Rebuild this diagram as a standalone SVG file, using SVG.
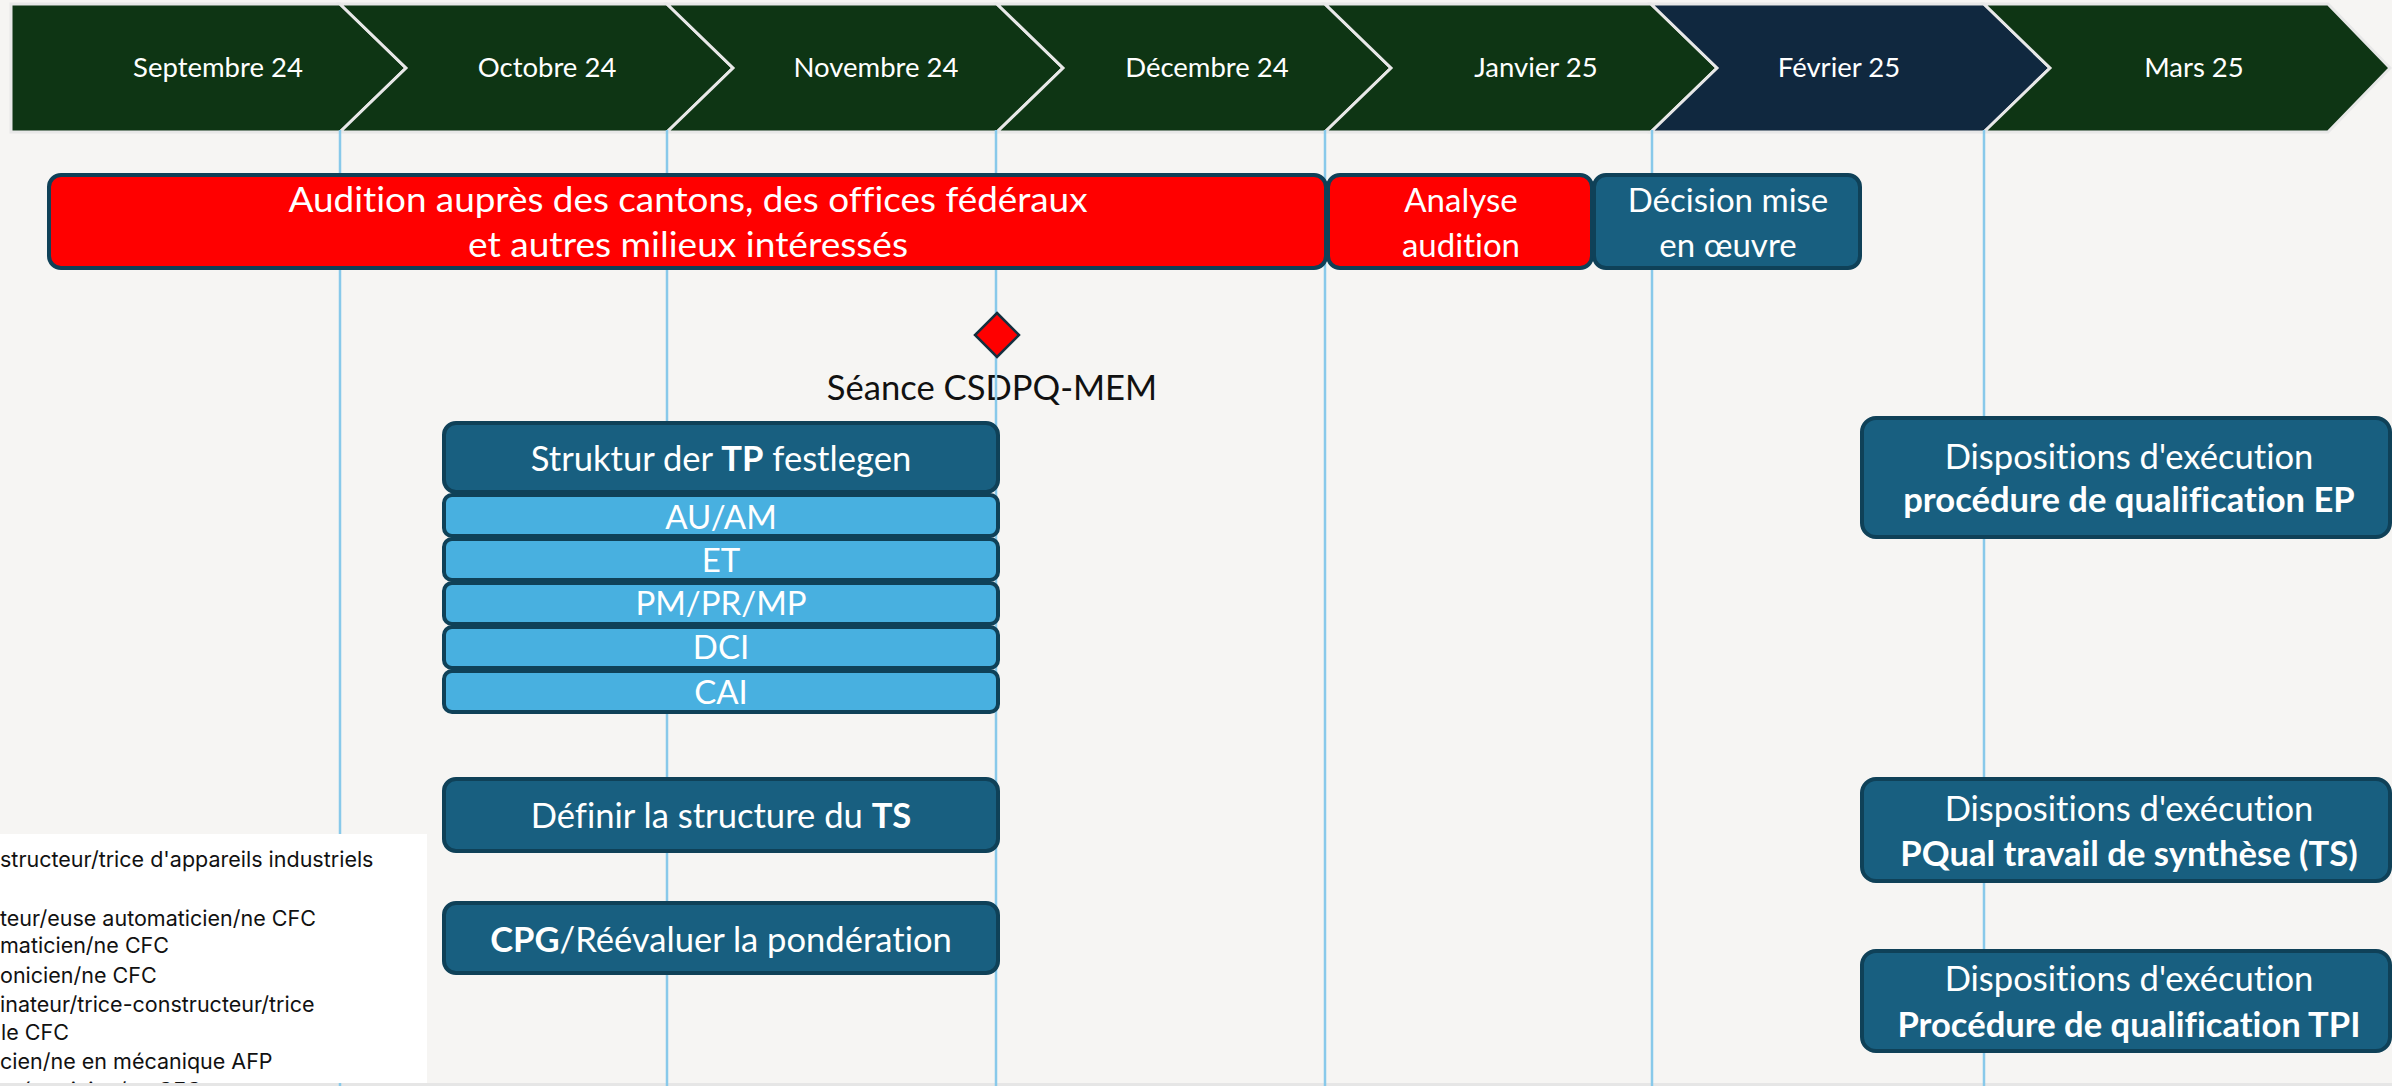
<svg xmlns="http://www.w3.org/2000/svg" width="2392" height="1086" viewBox="0 0 2392 1086">
<style>
.bg{fill:#f6f5f3}
.chev{fill:#0e3514;stroke:#e8e8e8;stroke-width:3;stroke-linejoin:miter}
.chev.feb{fill:#10283f}
.mon{font-family:Lato,"Noto Sans",sans-serif;font-size:27.5px;fill:#ffffff;text-anchor:middle}
.grid{stroke:#88c9ea;stroke-width:2.5;fill:none}
.red{fill:#ff0000;stroke:#0f4158;stroke-width:4}
.teal{fill:#185f80;stroke:#0f4158;stroke-width:4}
.lb{fill:#48b0e0;stroke:#0f4158;stroke-width:4}
.t{font-family:Lato,"Noto Sans",sans-serif;font-size:34.6px;fill:#ffffff;text-anchor:middle;font-variant-ligatures:none}
.s{font-size:33px}
.b{font-weight:bold}
.dk{fill:#111111}
.leg{font-family:Inter,"Noto Sans",sans-serif;font-size:21.5px;fill:#111111}
</style>
<defs>
<clipPath id="legclip"><rect x="0" y="834" width="427" height="249"/></clipPath>
</defs>
<rect class="bg" x="0" y="0" width="2392" height="1086"/>
<rect x="0" y="1083" width="2392" height="3" fill="#e6e6e6"/>

<g id="timeline">
<g id="m-sep"><polygon class="chev" points="11,4 340,4 406,68 340,132 11,132"/><text class="mon" x="218" y="77">Septembre 24</text></g>
<g id="m-oct"><polygon class="chev" points="340,4 667,4 733,68 667,132 340,132 406,68"/><text class="mon" x="547" y="77">Octobre 24</text></g>
<g id="m-nov"><polygon class="chev" points="667,4 997,4 1063,68 997,132 667,132 733,68"/><text class="mon" x="876" y="77">Novembre 24</text></g>
<g id="m-dec"><polygon class="chev" points="997,4 1325,4 1391,68 1325,132 997,132 1063,68"/><text class="mon" x="1207" y="77">Décembre 24</text></g>
<g id="m-jan"><polygon class="chev" points="1325,4 1651,4 1717,68 1651,132 1325,132 1391,68"/><text class="mon" x="1536" y="77">Janvier 25</text></g>
<g id="m-feb"><polygon class="chev feb" points="1651,4 1984,4 2050,68 1984,132 1651,132 1717,68"/><text class="mon" x="1839" y="77">Février 25</text></g>
<g id="m-mar"><polygon class="chev" points="1984,4 2328,4 2390,68 2328,132 1984,132 2050,68"/><text class="mon" x="2194" y="77">Mars 25</text></g>
</g>

<text id="seance-label" class="t dk" x="992" y="400">Séance CSDPQ-MEM</text>

<g id="connectors">
<line class="grid" x1="340" y1="130" x2="340" y2="1086"/>
<line class="grid" x1="667" y1="130" x2="667" y2="1086"/>
<line class="grid" x1="996" y1="130" x2="996" y2="1086"/>
<line class="grid" x1="1325" y1="130" x2="1325" y2="1086"/>
<line class="grid" x1="1652" y1="130" x2="1652" y2="1086"/>
<line class="grid" x1="1984" y1="130" x2="1984" y2="1086"/>
</g>

<g id="audition"><rect class="red" x="49" y="175" width="1277" height="93" rx="12"/>
<text class="t" x="688" y="212" textLength="799" lengthAdjust="spacingAndGlyphs">Audition auprès des cantons, des offices fédéraux</text>
<text class="t" x="688" y="257" textLength="440" lengthAdjust="spacingAndGlyphs">et autres milieux intéressés</text></g>

<g id="analyse"><rect class="red" x="1328" y="175" width="264" height="93" rx="12"/>
<text class="t s" x="1461" y="212">Analyse</text>
<text class="t s" x="1461" y="257">audition</text></g>

<g id="decision"><rect class="teal" x="1594" y="175" width="266" height="93" rx="12"/>
<text class="t s" x="1728" y="212">Décision mise</text>
<text class="t s" x="1728" y="257">en œuvre</text></g>

<g id="seance"><polygon points="997,313 1019,335 997,357 975,335" fill="#ff0000" stroke="#14303f" stroke-width="2.5"/></g>

<g id="struktur"><rect class="teal" x="444" y="423" width="554" height="69" rx="12"/>
<text class="t" x="721" y="471">Struktur der <tspan class="b">TP</tspan> festlegen</text></g>

<g id="auam"><rect class="lb" x="444" y="495" width="554" height="41" rx="8"/><text class="t s" x="721" y="529">AU/AM</text></g>
<g id="et"><rect class="lb" x="444" y="539" width="554" height="41" rx="8"/><text class="t s" x="721" y="572">ET</text></g>
<g id="pm"><rect class="lb" x="444" y="583" width="554" height="41" rx="8"/><text class="t s" x="721" y="615">PM/PR/MP</text></g>
<g id="dci"><rect class="lb" x="444" y="627" width="554" height="41" rx="8"/><text class="t s" x="721" y="659">DCI</text></g>
<g id="cai"><rect class="lb" x="444" y="671" width="554" height="41" rx="8"/><text class="t s" x="721" y="704">CAI</text></g>

<g id="definir"><rect class="teal" x="444" y="779" width="554" height="72" rx="12"/>
<text class="t" x="721" y="828">Définir la structure du <tspan class="b">TS</tspan></text></g>

<g id="cpg"><rect class="teal" x="444" y="903" width="554" height="70" rx="12"/>
<text class="t" x="721" y="952"><tspan class="b">CPG</tspan>/Réévaluer la pondération</text></g>

<g id="disp-ep"><rect class="teal" x="1862" y="418" width="528" height="119" rx="14"/>
<text class="t" x="2129" y="469">Dispositions d'exécution</text>
<text class="t b" x="2129" y="512">procédure de qualification EP</text></g>

<g id="disp-ts"><rect class="teal" x="1862" y="779" width="528" height="102" rx="14"/>
<text class="t" x="2129" y="821">Dispositions d'exécution</text>
<text class="t b" x="2129" y="866">PQual travail de synthèse (TS)</text></g>

<g id="disp-tpi"><rect class="teal" x="1862" y="951" width="528" height="100" rx="14"/>
<text class="t" x="2129" y="991">Dispositions d'exécution</text>
<text class="t b" x="2129" y="1037">Procédure de qualification TPI</text></g>

<g id="legend">
<rect x="0" y="834" width="427" height="249" fill="#ffffff"/>
<g clip-path="url(#legclip)">
<text class="leg" x="0" y="867">structeur/trice d'appareils industriels</text>
<text class="leg" x="0" y="926">teur/euse automaticien/ne CFC</text>
<text class="leg" x="0" y="953">maticien/ne CFC</text>
<text class="leg" x="0" y="983">onicien/ne CFC</text>
<text class="leg" x="0" y="1012">inateur/trice-constructeur/trice</text>
<text class="leg" x="1" y="1040">le CFC</text>
<text class="leg" x="0" y="1069">cien/ne en mécanique AFP</text>
<text class="leg" x="2" y="1098">mécanicien/ne CFC</text>
</g>
</g>
</svg>
